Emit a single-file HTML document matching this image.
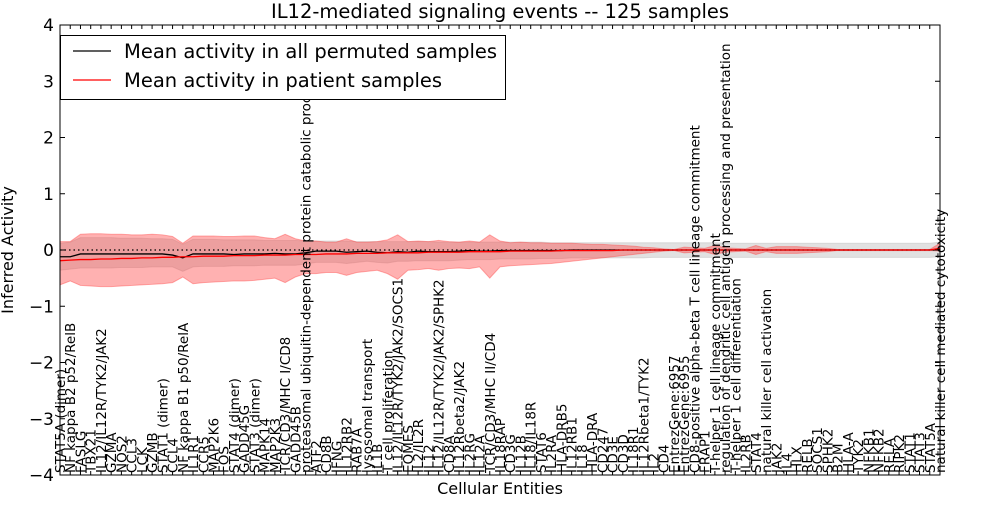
<!DOCTYPE html>
<html><head><meta charset="utf-8"><style>
body{margin:0;background:#fff;}
svg{font-family:"DejaVu Sans","Liberation Sans",sans-serif;}
</style></head><body>
<svg id="chart" width="1000" height="500" xmlns="http://www.w3.org/2000/svg">
<rect width="1000" height="500" fill="#fff"/>
<text x="500" y="18" text-anchor="middle" font-size="19.5">IL12-mediated signaling events -- 125 samples</text>
<text transform="translate(13,250) rotate(-90)" text-anchor="middle" font-size="16">Inferred Activity</text>
<text x="500" y="494" text-anchor="middle" font-size="16">Cellular Entities</text>
<g id="plot"></g>
</svg>
<script>
const categories=["STAT5A (dimer)","NF kappa B2 p52/RelB","FASLG","TBX21","IL12/IL12R/TYK2/JAK2","GZMA","NOS2","CCL3","LCK","GZMB","STAT1 (dimer)","CCL4","NF kappa B1 p50/RelA","IL1R1","CCR5","MAP2K6","FOS","STAT4 (dimer)","GADD45G","STAT3 (dimer)","MAPK14","MAP2K3","TCR/CD3/MHC I/CD8","GADD45B","proteasomal ubiquitin-dependent protein catabolic process","ATF2","CD8B","IFNG","IL12RB2","RAB7A","lysosomal transport","IL1B","T cell proliferation","IL12/IL12R/TYK2/JAK2/SOCS1","EOMES","IL2/IL2R","IL12","IL12/IL12R/TYK2/JAK2/SPHK2","CD8A","IL12Rbeta2/JAK2","IL2RG","IL12A","TCR/CD3/MHC II/CD4","IL18RAP","CD3G","IL12B","IL18/IL18R","STAT6","IL2RA","HLA-DRB5","IL12RB1","IL18","HLA-DRA","CD247","CD3E","CD3D","IL18R1","IL12Rbeta1/TYK2","IL2","CD4","EntrezGene:6957","EntrezGene:6955","CD8-positive alpha-beta T cell lineage commitment","FRAP1","T-helper 1 cell lineage commitment","regulation of dendritic cell antigen processing and presentation","T-helper 1 cell differentiation","IL2RB","STAT4","natural killer cell activation","JAK2","IL4","HLX","RELB","SOCS1","SPHK2","B2M","HLA-A","TYK2","NFKB1","NFKB2","RELA","RIPK2","STAT1","STAT3","STAT5A","natural killer cell mediated cytotoxicity"];
const redMean=[-0.19,-0.18,-0.17,-0.17,-0.16,-0.16,-0.15,-0.15,-0.14,-0.14,-0.13,-0.13,-0.12,-0.12,-0.11,-0.11,-0.11,-0.10,-0.10,-0.10,-0.09,-0.09,-0.09,-0.08,-0.08,-0.08,-0.07,-0.07,-0.07,-0.06,-0.06,-0.06,-0.05,-0.05,-0.05,-0.05,-0.04,-0.04,-0.04,-0.04,-0.03,-0.03,-0.03,-0.03,-0.02,-0.02,-0.02,-0.02,-0.02,-0.01,-0.01,-0.01,-0.01,-0.01,-0.01,0,0,0,0,0,0,0,0,0,0,0,0,0,0,0,0,0,0,0,0,0,0,0,0,0,0,0,0,0,0,0,0.03];
const redHi=[0.15,0.15,0.28,0.29,0.29,0.28,0.28,0.27,0.27,0.28,0.27,0.24,0.12,0.25,0.25,0.25,0.24,0.24,0.25,0.25,0.22,0.2,0.28,0.2,0.16,0.16,0.14,0.14,0.2,0.14,0.14,0.15,0.18,0.27,0.15,0.16,0.15,0.17,0.15,0.14,0.16,0.14,0.27,0.16,0.13,0.14,0.13,0.13,0.12,0.12,0.12,0.11,0.10,0.10,0.09,0.08,0.07,0.05,0.04,0.02,0.01,0.05,0.04,0.03,0.08,0.04,0.03,0.02,0.08,0.03,0.06,0.06,0.06,0.05,0.04,0.03,0.01,0.01,0.01,0.01,0.01,0.01,0.01,0.01,0.01,0.01,0.12];
const redLo=[-0.62,-0.55,-0.63,-0.64,-0.65,-0.65,-0.64,-0.63,-0.62,-0.61,-0.6,-0.58,-0.48,-0.6,-0.58,-0.57,-0.56,-0.55,-0.55,-0.54,-0.52,-0.5,-0.58,-0.48,-0.42,-0.42,-0.4,-0.4,-0.45,-0.4,-0.38,-0.36,-0.42,-0.52,-0.36,-0.35,-0.33,-0.36,-0.33,-0.32,-0.33,-0.3,-0.5,-0.3,-0.28,-0.27,-0.26,-0.25,-0.24,-0.22,-0.2,-0.18,-0.16,-0.14,-0.12,-0.1,-0.08,-0.06,-0.04,-0.02,-0.01,-0.05,-0.04,-0.03,-0.08,-0.04,-0.03,-0.02,-0.08,-0.03,-0.06,-0.06,-0.06,-0.05,-0.04,-0.03,-0.01,-0.01,-0.01,-0.01,-0.01,-0.01,-0.01,-0.01,-0.01,-0.01,-0.02];
const blackMean=[-0.12,-0.12,-0.07,-0.07,-0.07,-0.07,-0.07,-0.07,-0.07,-0.07,-0.07,-0.09,-0.14,-0.07,-0.07,-0.07,-0.07,-0.08,-0.07,-0.07,-0.07,-0.06,-0.07,-0.07,-0.05,-0.02,-0.02,-0.02,-0.04,-0.03,-0.02,-0.04,-0.05,-0.03,-0.04,-0.02,-0.03,-0.03,-0.03,-0.02,-0.01,-0.02,-0.02,-0.01,-0.01,-0.01,-0.01,-0.01,-0.01,-0.01,0,0,0,0,0,0,0,0,0,0,0,0,0,0,0,0,0,0,0,0,0,0,0,0,0,0,0,0,0,0,0,0,0,0,0,0,0.01];
const grayHi=[0.12,0.14,0.22,0.22,0.22,0.22,0.21,0.21,0.21,0.2,0.2,0.19,0.1,0.19,0.19,0.19,0.18,0.18,0.18,0.18,0.17,0.17,0.17,0.17,0.16,0.16,0.16,0.16,0.16,0.15,0.15,0.15,0.15,0.15,0.15,0.15,0.15,0.14,0.14,0.14,0.14,0.14,0.14,0.14,0.14,0.14,0.14,0.14,0.13,0.13,0.13,0.13,0.13,0.13,0.13,0.13,0.13,0.13,0.13,0.13,0.13,0.13,0.13,0.13,0.13,0.12,0.12,0.12,0.12,0.12,0.12,0.12,0.12,0.12,0.12,0.12,0.12,0.12,0.12,0.12,0.12,0.12,0.12,0.12,0.12,0.12,0.14];
const grayLo=[-0.36,-0.34,-0.32,-0.32,-0.32,-0.32,-0.31,-0.31,-0.31,-0.3,-0.3,-0.3,-0.38,-0.3,-0.29,-0.29,-0.29,-0.28,-0.28,-0.28,-0.27,-0.27,-0.27,-0.27,-0.25,-0.22,-0.22,-0.22,-0.24,-0.22,-0.2,-0.22,-0.23,-0.2,-0.2,-0.19,-0.19,-0.19,-0.19,-0.18,-0.17,-0.17,-0.17,-0.16,-0.16,-0.16,-0.16,-0.15,-0.15,-0.15,-0.14,-0.14,-0.14,-0.14,-0.14,-0.14,-0.14,-0.14,-0.13,-0.13,-0.13,-0.13,-0.13,-0.13,-0.13,-0.13,-0.13,-0.13,-0.13,-0.13,-0.13,-0.13,-0.13,-0.13,-0.13,-0.13,-0.13,-0.13,-0.13,-0.13,-0.13,-0.13,-0.13,-0.13,-0.13,-0.13,-0.12];
const yTicks=[4,3,2,1,0,-1,-2,-3,-4];

const L=60,R=940,T=25,B=475;
const NS="http://www.w3.org/2000/svg";
const g=document.getElementById('plot');
function xs(i){return L+i*(R-L)/(categories.length-1);}
function ys(v){return T+(4-v)*(B-T)/8;}
function mk(t,a){const e=document.createElementNS(NS,t);for(const k in a)e.setAttribute(k,a[k]);g.appendChild(e);return e;}
function band(hi,lo,fill,name){
  let d='M'+hi.map((v,i)=>xs(i)+','+ys(v)).join('L');
  for(let i=lo.length-1;i>=0;i--)d+='L'+xs(i)+','+ys(lo[i]);
  const p=mk('path',{d:d+'Z',fill:fill,stroke:fill,'stroke-width':1});
  
  
}
function line(arr,col,w,name){
  const p=mk('path',{d:'M'+arr.map((v,i)=>xs(i)+','+ys(v)).join('L'),fill:'none',stroke:col,'stroke-width':w});
  
  
}
band(grayHi,grayLo,'rgba(180,180,180,0.4)','permuted-band');
band(redHi,redLo,'rgba(255,60,60,0.4)','patient-band');
const z=mk('line',{x1:L,x2:R,y1:ys(0),y2:ys(0),stroke:'#000','stroke-dasharray':'1.5,3','stroke-width':1.2});


line(blackMean,'#000',1.3,'permuted-mean-line');
line(redMean,'#f00',1.3,'patient-mean-line');
const fr=mk('rect',{x:L,y:T,width:R-L,height:B-T,fill:'none',stroke:'#000','stroke-width':1});


yTicks.forEach(v=>{
  const y=ys(v);
  mk('line',{x1:L,x2:L+5,y1:y,y2:y,stroke:'#000'});
  mk('line',{x1:R-5,x2:R,y1:y,y2:y,stroke:'#000'});
  const t=mk('text',{x:L-6,y:y+6,'text-anchor':'end','font-size':17});
  t.textContent=(v<0?'\u2212':'')+Math.abs(v);
  
  
});
categories.forEach((c,i)=>{
  const x=xs(i);
  mk('line',{x1:x,x2:x,y1:B,y2:B-4,stroke:'#000'});
  mk('line',{x1:x,x2:x,y1:T,y2:T+4,stroke:'#000'});
  const t=mk('text',{transform:'translate('+(x+5)+','+(B-2)+') rotate(-90)','font-size':13.5});
  t.textContent=c;
  
  
});
// legend (drawn on top of labels)
const lg=mk('rect',{x:60.5,y:35.5,width:445,height:64,fill:'#fff',stroke:'#000'});


[['#000','Mean activity in all permuted samples',51],['#f00','Mean activity in patient samples',80]].forEach(([c,s,y])=>{
  mk('line',{x1:73,x2:111,y1:y,y2:y,stroke:c,'stroke-width':1.3});
  const t=mk('text',{x:124,y:y+7,'font-size':19.5});
  t.textContent=s;
  
  
});
</script>
</body></html>
